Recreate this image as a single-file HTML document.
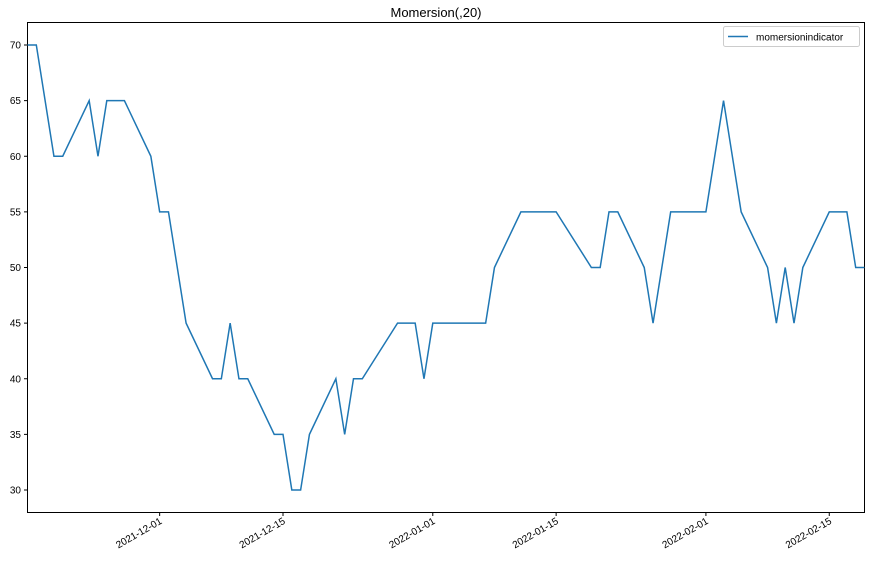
<!DOCTYPE html>
<html><head><meta charset="utf-8"><style>
body{margin:0;background:#fff;font-family:"Liberation Sans",sans-serif;}
svg text{font-family:"Liberation Sans",sans-serif;fill:#000;}
</style></head><body>
<svg id="chart" width="871" height="564">
<text x="436" y="17" font-size="13" text-anchor="middle">Momersion(,20)</text>
<rect x="27.5" y="22.5" width="837" height="490" fill="none" stroke="#000" stroke-width="1"/>
<g id="yaxis"></g>
<g id="xaxis"></g>
<polyline id="line" fill="none" stroke="#1f77b4" stroke-width="1.5"/>
<g>
<rect x="723.5" y="26.5" width="136" height="20" rx="2" fill="#fff" stroke="#ccc"/>
<line x1="728" y1="36.5" x2="748" y2="36.5" stroke="#1f77b4" stroke-width="1.5"/>
<text x="756" y="40.5" font-size="10">momersionindicator</text>
</g>
</svg>
<script>
const dates=["2021-11-16","2021-11-17","2021-11-19","2021-11-20","2021-11-23","2021-11-24","2021-11-25","2021-11-27","2021-11-30","2021-12-01","2021-12-02","2021-12-04","2021-12-07","2021-12-08","2021-12-09","2021-12-10","2021-12-11","2021-12-14","2021-12-15","2021-12-16","2021-12-17","2021-12-18","2021-12-21","2021-12-22","2021-12-23","2021-12-24","2021-12-28","2021-12-30","2021-12-31","2022-01-01","2022-01-07","2022-01-08","2022-01-11","2022-01-15","2022-01-19","2022-01-20","2022-01-21","2022-01-22","2022-01-25","2022-01-26","2022-01-28","2022-02-01","2022-02-03","2022-02-05","2022-02-08","2022-02-09","2022-02-10","2022-02-11","2022-02-12","2022-02-15","2022-02-17","2022-02-18","2022-02-19"];
const values=[70,70,60,60,65,60,65,65,60,55,55,45,40,40,45,40,40,35,35,30,30,35,40,35,40,40,45,45,40,45,45,50,55,55,50,50,55,55,50,45,55,55,65,55,50,45,50,45,50,55,55,50,50];
const yTicks=[30,35,40,45,50,55,60,65,70];
const xTicks=["2021-12-01","2021-12-15","2022-01-01","2022-01-15","2022-02-01","2022-02-15"];
const NS="http://www.w3.org/2000/svg";
const day=d=>Date.parse(d+"T00:00:00Z")/86400000;
const x0=day("2021-11-16"),x1=day("2022-02-19");
const X=d=>27.5+(day(d)-x0)/(x1-x0)*837;
const Y=v=>45+(70-v)/40*445;
const ya=document.getElementById('yaxis'),xa=document.getElementById('xaxis');
yTicks.forEach(v=>{
 const y=Y(v);
 const l=document.createElementNS(NS,'line');
 l.setAttribute('x1',24);l.setAttribute('x2',27.5);l.setAttribute('y1',y);l.setAttribute('y2',y);l.setAttribute('stroke','#000');
 
 
 ya.appendChild(l);
 const t=document.createElementNS(NS,'text');
 t.setAttribute('x',21);t.setAttribute('y',y+3.5);t.setAttribute('font-size','10');t.setAttribute('text-anchor','end');
 t.textContent=v;
 
 
 ya.appendChild(t);
});
xTicks.forEach(d=>{
 const x=X(d);
 const l=document.createElementNS(NS,'line');
 l.setAttribute('x1',x);l.setAttribute('x2',x);l.setAttribute('y1',512.5);l.setAttribute('y2',516);l.setAttribute('stroke','#000');
 
 
 xa.appendChild(l);
 const t=document.createElementNS(NS,'text');
 t.setAttribute('font-size','10');t.setAttribute('text-anchor','end');
 t.setAttribute('transform','translate('+(x+3)+',523) rotate(-30)');
 t.textContent=d;
 
 
 xa.appendChild(t);
});
document.getElementById('line').setAttribute('points',dates.map((d,i)=>X(d)+','+Y(values[i])).join(' '));
</script>
</body></html>
